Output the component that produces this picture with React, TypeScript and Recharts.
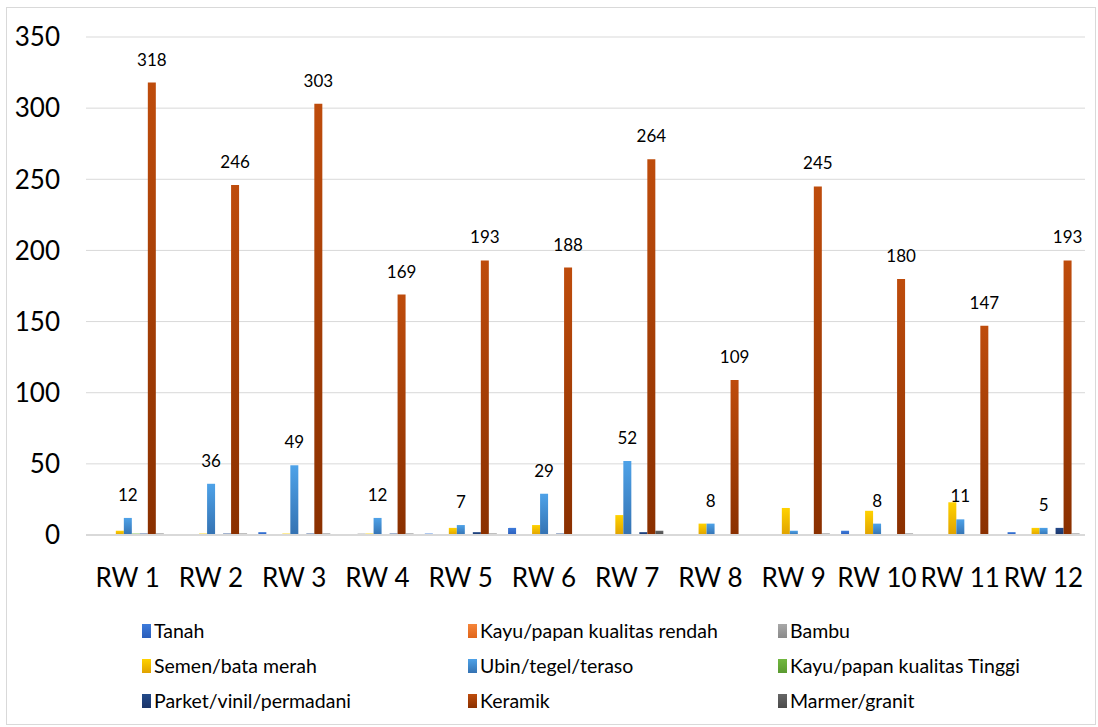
import { BarChart, Bar, XAxis, YAxis, CartesianGrid, LabelList } from 'recharts';

const categories = ['RW 1', 'RW 2', 'RW 3', 'RW 4', 'RW 5', 'RW 6', 'RW 7', 'RW 8', 'RW 9', 'RW 10', 'RW 11', 'RW 12'];

const tanah = [0, 0, 2, 0, 1, 5, 0, 0, 0, 3, 0, 2];
const kayuRendah = [0, 0, 0, 0, 0, 0, 0, 0, 0, 0, 0, 0];
const bambu = [0, 0, 0, 1, 0, 0, 0, 0, 0, 0, 0, 0];
const semen = [3, 1, 1, 1, 5, 7, 14, 8, 19, 17, 23, 5];
const ubin = [12, 36, 49, 12, 7, 29, 52, 8, 3, 8, 11, 5];
const kayuTinggi = [1, 0, 0, 0, 0, 0, 0, 0, 0, 0, 0, 0];
const parket = [1, 1, 1, 1, 2, 1, 2, 0, 0, 0, 0, 5];
const keramik = [318, 246, 303, 169, 193, 188, 264, 109, 245, 180, 147, 193];
const marmer = [1, 1, 1, 1, 1, 0, 3, 0, 1, 1, 0, 1];

// labels shown on the Ubin series (RW 9 has none in the original)
const ubinLabels = ['12', '36', '49', '12', '7', '29', '52', '8', '', '8', '11', '5'];

const yTicks = [0, 50, 100, 150, 200, 250, 300, 350];

const series = [
  { key: 'tanah', name: 'Tanah', top: '#3D7BDB', bottom: '#2A5DBA', values: tanah },
  { key: 'kayuRendah', name: 'Kayu/papan kualitas rendah', top: '#F5853A', bottom: '#E0651A', values: kayuRendah },
  { key: 'bambu', name: 'Bambu', top: '#A8A8A8', bottom: '#8A8A8A', values: bambu },
  { key: 'semen', name: 'Semen/bata merah', top: '#FFD200', bottom: '#E0A200', values: semen },
  { key: 'ubin', name: 'Ubin/tegel/teraso', top: '#4EA2E8', bottom: '#3472B2', values: ubin },
  { key: 'kayuTinggi', name: 'Kayu/papan kualitas Tinggi', top: '#72B840', bottom: '#5A9A30', values: kayuTinggi },
  { key: 'parket', name: 'Parket/vinil/permadani', top: '#234A8A', bottom: '#1A3468', values: parket },
  { key: 'keramik', name: 'Keramik', top: '#BE4C0C', bottom: '#8A3000', values: keramik },
  { key: 'marmer', name: 'Marmer/granit', top: '#666666', bottom: '#4A4A4A', values: marmer },
];

const data = categories.map((name, i) => {
  const row: Record<string, string | number> = { name, ubinLabel: ubinLabels[i] };
  series.forEach((s) => {
    row[s.key] = s.values[i];
  });
  return row;
});

const font = 'Lato, "Open Sans", sans-serif';

export default function App() {
  return (
    <div style={{ position: 'absolute', left: 0, top: 0, width: 1098, height: 727, background: '#fff', fontFamily: font }}>
      <div style={{ position: 'absolute', left: 6, top: 7, width: 1090, height: 718, border: '1px solid #D9D9D9', boxSizing: 'border-box' }} />
      <div style={{ position: 'absolute', left: 0, top: 0 }}>
        <BarChart
          width={1098}
          height={727}
          data={data}
          margin={{ top: 37, right: 13, left: 0, bottom: 132 }}
          barCategoryGap="7%"
          barGap={0}
        >
          <defs>
            {series.map((s) => (
              <linearGradient key={s.key} id={`g-${s.key}`} x1="0" y1="0" x2="0" y2="1">
                <stop offset="0%" stopColor={s.top} />
                <stop offset="100%" stopColor={s.bottom} />
              </linearGradient>
            ))}
          </defs>
          <CartesianGrid vertical={false} stroke="#D9D9D9" />
          <XAxis
            dataKey="name"
            height={60}
            tickLine={false}
            axisLine={{ stroke: '#D9D9D9', strokeWidth: 2 }}
            tick={{ fontSize: 26, fill: '#000', fontFamily: font }}
            tickMargin={28}
            interval={0}
          />
          <YAxis
            width={86}
            domain={[0, 350]}
            ticks={yTicks}
            axisLine={false}
            tickLine={false}
            tick={{ fontSize: 26, fill: '#000', fontFamily: font }}
            tickMargin={20}
          />
          {series.map((s) => (
            <Bar key={s.key} dataKey={s.key} name={s.name} fill={`url(#g-${s.key})`} isAnimationActive={false}>
              {s.key === 'ubin' && (
                <LabelList dataKey="ubinLabel" position="top" offset={17} style={{ fontSize: 17, fill: '#000', fontFamily: font }} />
              )}
              {s.key === 'keramik' && (
                <LabelList dataKey="keramik" position="top" offset={17} style={{ fontSize: 17, fill: '#000', fontFamily: font }} />
              )}
            </Bar>
          ))}
        </BarChart>
      </div>
      <div style={{ position: 'absolute', left: 142, top: 619, width: 950, display: 'grid', gridTemplateColumns: '326px 310px 300px', rowGap: 12 }}>
        {series.map((s) => (
          <div key={s.key} style={{ display: 'flex', alignItems: 'center', height: 23, fontSize: 19.5, color: '#000' }}>
            <span style={{ display: 'inline-block', width: 9, height: 14, marginRight: 3, background: `linear-gradient(${s.top}, ${s.bottom})` }} />
            {s.name}
          </div>
        ))}
      </div>
    </div>
  );
}
